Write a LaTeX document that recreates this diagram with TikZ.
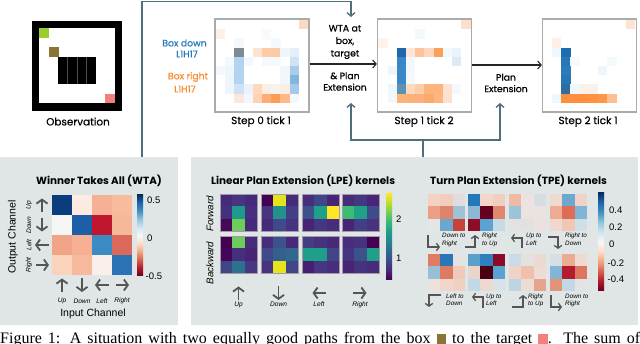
\documentclass[tikz,border=0pt]{standalone}
\usepackage{fontspec}
\setmainfont{Poppins}
\newfontfamily\medf{Poppins}[FakeBold=0.6]
\newfontfamily\arialf{Liberation Sans}
\newfontfamily\capfnt{Liberation Serif}
\usetikzlibrary{arrows.meta}
\definecolor{loopc}{HTML}{4F6F7B}
\definecolor{panelbg}{HTML}{DFE6E5}
\definecolor{frameg}{HTML}{A8ACAC}
\definecolor{boxblue}{HTML}{2479BD}
\definecolor{boxorange}{HTML}{F78B2E}
\definecolor{glyph}{HTML}{555555}
\definecolor{boxbrown}{HTML}{8B7536}
\definecolor{tgtpink}{HTML}{F2807C}
\definecolor{goalgreen}{HTML}{9ACD32}
\definecolor{rdA}{HTML}{67001F}\definecolor{rdB}{HTML}{B2182B}\definecolor{rdC}{HTML}{D6604D}\definecolor{rdD}{HTML}{F4A582}\definecolor{rdE}{HTML}{FDDBC7}\definecolor{rdF}{HTML}{F7F7F7}\definecolor{rdG}{HTML}{D1E5F0}\definecolor{rdH}{HTML}{92C5DE}\definecolor{rdI}{HTML}{4393C3}\definecolor{rdJ}{HTML}{2166AC}\definecolor{rdK}{HTML}{053061}
\definecolor{vA}{HTML}{440154}\definecolor{vB}{HTML}{482878}\definecolor{vC}{HTML}{3E4989}\definecolor{vD}{HTML}{31688E}\definecolor{vE}{HTML}{26828E}\definecolor{vF}{HTML}{1F9E89}\definecolor{vG}{HTML}{35B779}\definecolor{vH}{HTML}{6ECE58}\definecolor{vI}{HTML}{B5DE2B}\definecolor{vJ}{HTML}{FDE725}
\pgfdeclareverticalshading{rdbu}{100bp}{color(0bp)=(rdA);color(25bp)=(rdA);color(30bp)=(rdB);color(35bp)=(rdC);color(40bp)=(rdD);color(45bp)=(rdE);color(50bp)=(rdF);color(55bp)=(rdG);color(60bp)=(rdH);color(65bp)=(rdI);color(70bp)=(rdJ);color(75bp)=(rdK);color(100bp)=(rdK)}
\pgfdeclareverticalshading{viri}{100bp}{color(0bp)=(vA);color(25bp)=(vA);color(30.5bp)=(vB);color(36bp)=(vC);color(41.5bp)=(vD);color(47bp)=(vE);color(53bp)=(vF);color(58.5bp)=(vG);color(64bp)=(vH);color(69.5bp)=(vI);color(75bp)=(vJ);color(100bp)=(vJ)}
\newcommand{\gridmap}[5]{%
  \foreach \hc [count=\i from 0] in {#5} {%
    \pgfmathtruncatemacro\gc{mod(\i,#4)}%
    \pgfmathtruncatemacro\gr{div(\i,#4)}%
    \definecolor{tmpc}{HTML}{\hc}%
    \fill[tmpc] ({#1+\gc*#3},{#2+\gr*#3}) rectangle ++({#3+0.3},{#3+0.3});}}
\newcommand{\sparsemap}[4]{%
  \foreach \cc/\rr/\hc in {#4} {%
    \definecolor{tmpc}{HTML}{\hc}%
    \fill[tmpc] ({#1+\cc*#3},{#2+\rr*#3}) rectangle ++({#3+0.2},{#3+0.2});}}
\tikzset{
  toplabel/.style={font=\medf\fontsize{10.4}{11}\selectfont, inner sep=0},
  midlabel/.style={font=\medf\fontsize{9.3}{11.5}\selectfont, inner sep=0, align=center},
  title/.style={font=\bfseries\fontsize{10.4}{12}\selectfont, inner sep=0},
  stepframe/.style={draw=frameg, line width=1.2pt, minimum width=94pt, minimum height=93pt, inner sep=0},
  panel/.style={fill=panelbg, inner sep=0, anchor=north west},
  loopline/.style={draw=loopc, line width=1.4pt},
  looparrow/.style={loopline, -{Straight Barb[length=3.5pt,width=8pt]}},
  flow/.style={draw=black!85, line width=1.1pt, -{Straight Barb[length=3.5pt,width=8pt]}},
  garrow/.style={draw=glyph, line width=1.8pt, -{Straight Barb[length=4pt,width=11pt]}},
  tarrow/.style={draw=glyph, line width=1.3pt, -{Straight Barb[length=2.8pt,width=7.5pt]}},
  smallit/.style={font=\arialf\itshape\fontsize{6.6}{7.6}\selectfont, inner sep=0},
  tinyit/.style={font=\arialf\itshape\fontsize{6.3}{7.6}\selectfont, inner sep=0, align=left, anchor=north west},
  axlab/.style={font=\arialf\fontsize{10.5}{12}\selectfont, inner sep=0},
  cbl/.style={font=\arialf\fontsize{9.5}{11}\selectfont, inner sep=0, anchor=west},
  kframe/.style={draw=white!75!violet!40!gray, line width=0.5pt}
}
\begin{document}
\begin{tikzpicture}[x=1pt,y=-1pt]
\useasboundingbox (0,0) rectangle (640,344);
% ---------------- Observation
\fill[black] (32,21) rectangle (122,111);
\fill[white] (39,28) rectangle (115,103);
\fill[goalgreen] (39,28) rectangle (49,38);
\fill[boxbrown] (49,47) rectangle (59,57);
\fill[black] (58,57) rectangle (96,84);
\foreach \xx in {67.5,77,86.5} \draw[black!70, line width=0.5pt] (\xx,57) -- (\xx,84);
\fill[tgtpink] (105,94) rectangle (114.5,103);
\node[toplabel] (obs) at (78,121.5) {Observation};
% ---------------- bottom panels
\node[panel, minimum width=178pt, minimum height=168pt] (wtap) at (0,157) {};
\node[panel, minimum width=447pt, minimum height=168pt] (plp) at (191,157) {};
% ---------------- Step heatmaps
\sparsemap{216}{20}{9.2}{9/0/FDD9BF,0/1/FDF0E6,2/2/F6F9FB,5/1/F7FBFE,6/2/F4F9FD,
 2/3/7F8C8F,4/3/FDE3D0,5/3/FDCBA6,6/3/FDCBA3,7/3/EEF5FB,8/3/E3EFF9,
 1/4/F2F8FD,2/4/B3D4F0,3/4/F2F8FD,5/4/F4F9FD,6/4/F4F9FD,8/4/CFE3F5,
 0/5/F2F8FD,1/5/EEF6FC,2/5/B3D4F0,7/5/F0F7FC,8/5/A9CCEC,
 1/6/EEF6FC,2/6/B3D4F0,7/6/F0F7FC,8/6/86B5DC,
 1/7/EEF6FC,2/7/CDE2F3,3/7/EAF3FB,4/7/FDD8BD,5/7/FDEEE3,6/7/F9F3EF,7/7/FCEDE4,8/7/A6C9E8,
 2/8/FDE7DA,3/8/F2F8FD,4/8/FDD3B3,5/8/FCAE74,6/8/FC9C55,7/8/FDB98A,8/8/F2F8FD}
\sparsemap{378.3}{20}{9.2}{9/0/FDE0CC,0/2/FEF2EA,4/1/F3F8FD,
 2/3/1F66AA,3/3/FDE6D6,4/3/FCC49A,5/3/FDD8BB,6/3/FBA05A,7/3/F3F8FC,8/3/EAF3FB,
 2/4/3786C6,3/4/F2F8FD,8/4/DCEAF7,
 1/5/EEF5FB,2/5/3A88C8,3/5/F2F8FD,
 2/6/3A88C8,3/6/F4F9FD,
 1/7/EEF6FB,2/7/5B93B6,3/7/FDD9BE,4/7/FDCCA8,5/7/FBB47C,6/7/FBB47E,7/7/FDE2CF,8/7/F5F9FD,
 1/8/F2F8FC,2/8/FBB37B,3/8/FCB07A,4/8/FCAF78,5/8/FCAA6B,6/8/FCB584,7/8/FDE1CD}
\sparsemap{542.7}{20}{9.2}{9/0/FDE3D2,1/2/FEF0E6,1/3/F0F8FD,
 2/3/1C6CB2,2/4/2676B8,2/5/2C7BBB,2/6/2676B8,2/7/2E6E9E,
 3/4/F4FAFE,7/4/F5FAFD,6/5/EEF6FC,3/7/F0F8FD,4/7/FEF0E6,5/7/F8F2EE,1/8/EEF7FC,
 2/8/FD8E3C,3/8/FD8F3F,4/8/FD8F3F,5/8/FD9243,6/8/FD9649,7/8/FBBF93}
\node[stepframe] (s0) at (262,65.5) {};
\node[stepframe] (s1) at (424.5,65.5) {};
\node[stepframe] (s2) at (589.5,65.5) {};
\node[toplabel] (s0l) at (261,121.5) {Step 0 tick 1};
\node[toplabel] (s1l) at (424,121.5) {Step 1 tick 2};
\node[toplabel] (s2l) at (588,121.5) {Step 2 tick 1};
% labels left of step 0
\node[midlabel, text=boxblue] (bd) at (184.5,43) {Box down};
\node[midlabel, text=boxblue] (bdh) at (187,54) {L1H17};
\node[midlabel, text=boxorange] (br) at (188,77) {Box right};
\node[midlabel, text=boxorange] (brh) at (185,89) {L1H17};
% middle texts
\node[midlabel, font=\medf\fontsize{9.3}{12.5}\selectfont] (wtat) at (345,42) {WTA at\\box,\\target};
\node[midlabel] (pet) at (345,81.5) {\& Plan\\Extension};
\node[midlabel] (pe2) at (506,83) {Plan\\Extension};
% flow arrows
\draw[flow] (s0.east |- 0,64) -- (s1.west |- 0,64);
\draw[flow] (s1.east |- 0,65) -- (s2.west |- 0,65);
% loop lines
\coordinate (ltop) at (142,1.6);
\coordinate (ltip) at (351,17);
\draw[looparrow] (wtap.north -| ltop) -- (ltop) -| (ltip);
\coordinate (cst) at (423,140);
\coordinate (tipA) at (351,103);
\coordinate (tipB) at (500,103);
\draw[looparrow] (plp.north -| cst) -- (cst) -| (tipA);
\draw[looparrow] (cst) -| (tipB);
% ---------------- WTA panel
\node[title] (wtatitle) at (99,181) {Winner Takes All (WTA)};
\gridmap{52}{195}{20}{4}{0B3C7B,FDEBE2,F6B095,F8BB9D,F7F6F6,1C5FA6,C0172F,F7B799,F1A486,F6B093,3C8CC3,DB6A5A,FBD2BC,F7B99C,F9F0EB,2B72B6}
\fill[shading=rdbu] (137,195) rectangle (143,276);
\node[cbl] (w1) at (147,200) {0.5};
\node[cbl] (w2) at (147,238) {0};
\node[cbl] (w3) at (145.5,276) {-0.5};
\draw[garrow] (42,212) -- (42,198.5);
\draw[garrow] (42,218) -- (42,231.5);
\draw[garrow] (48.5,245) -- (35,245);
\draw[garrow] (35.5,265) -- (49,265);
\node[smallit, rotate=90] (ou) at (29,205) {Up};
\node[smallit, rotate=90] (od) at (29,225) {Down};
\node[smallit, rotate=90] (ol) at (29,245) {Left};
\node[smallit, rotate=90] (or) at (29,265) {Right};
\node[axlab, rotate=90] (outc) at (13,237) {Output Channel};
\draw[garrow] (62,292) -- (62,278.5);
\draw[garrow] (82,278.5) -- (82,292);
\draw[garrow] (108.5,285) -- (95,285);
\draw[garrow] (115.5,285) -- (129,285);
\node[smallit] (iu) at (62,301) {Up};
\node[smallit] (id) at (82,301) {Down};
\node[smallit] (il) at (102,301) {Left};
\node[smallit] (ir) at (122,301) {Right};
\node[axlab] (inc) at (93,313.5) {Input Channel};
% ---------------- LPE
\node[title, anchor=west] (lpet) at (211,181) {Linear Plan Extension (LPE) kernels};
\gridmap{220}{194}{12.3}{3}{45297A,473580,45297A,462F7E,1F9A8A,46307D,440A58,6CCD5A,45297A}
\gridmap{261}{194}{12.3}{3}{440154,E4E419,472A7A,46327E,25918C,433E85,482878,3E4A89,46337F}
\gridmap{302}{194}{12.3}{3}{472D7B,3F4788,482576,3B528B,1FA088,FDE725,482475,453781,472D7B}
\gridmap{342}{194}{12.3}{3}{472C7A,453882,482576,3DBC74,1FA187,3E4C8A,482475,433E85,46337E}
\gridmap{220}{236}{12.3}{3}{440154,6CCD5A,472C7A,450559,46307E,482475,414487,2C728E,453781}
\gridmap{261}{236}{12.3}{3}{472D7B,3B528B,482878,3E4A89,35608D,31688E,46337F,E7E419,404588}
\gridmap{302}{236}{12.3}{3}{433D84,46327E,482878,1F9E89,1F9E89,414487,481F70,453781,472D7B}
\gridmap{342}{236}{12.3}{3}{472D7B,46327E,440154,46337F,3B528B,1FA088,482374,46337E,472C7A}
\foreach \kx in {220,261,302,342} \foreach \ky in {194,236} \draw[kframe] (\kx,\ky) rectangle ++(37.2,37.2);
\node[smallit, rotate=90, font=\arialf\itshape\fontsize{9.7}{11}\selectfont] (fw) at (210,214) {Forward};
\node[smallit, rotate=90, font=\arialf\itshape\fontsize{9.7}{11}\selectfont] (bw) at (210,263) {Backward};
\fill[shading=viri] (386,194) rectangle (392,280);
\node[cbl] (v2) at (396,219) {2};
\node[cbl] (v1) at (396,258) {1};
\draw[garrow] (238.5,300) -- (238.5,286.5);
\draw[garrow] (278.5,286.5) -- (278.5,300);
\draw[garrow] (326,293) -- (312.5,293);
\draw[garrow] (353,293) -- (366.5,293);
\node[smallit] (lu) at (238.5,304.5) {Up};
\node[smallit] (ld) at (278.5,304.5) {Down};
\node[smallit] (ll) at (319,304.5) {Left};
\node[smallit] (lr) at (360,304.5) {Right};
% ---------------- TPE
\node[title, anchor=west] (tpet) at (430,181) {Turn Plan Extension (TPE) kernels};
\gridmap{428}{194}{12.3}{3}{F4D2C2,F2CCBC,E0DDDC,EC9F86,E0836C,9EC2D6,E6E6E6,6AA8CF,C7423A}
\gridmap{468}{194}{12.3}{3}{2478B8,F2D6CA,F1CFC0,8CB8D5,67001F,E0886F,8E0C25,5BA3D0,C6DBE8}
\gridmap{509}{194}{12.3}{3}{EFB9A2,EBE3E0,D6DEE4,9CC4D9,ECE3E0,ECE3E0,E2E2E2,E1E1E1,EBE2DF}
\gridmap{550}{194}{12.3}{3}{EFD9D0,6DA9CF,F0D2C6,EEAC93,DD6E55,82B5D5,F0D8CE,EFC7B7,CFDFE6}
\gridmap{428}{254}{12.3}{3}{E07A62,2A77B7,E3E3E3,95C0D8,DD7B62,EFC9BA,EDE1DC,F0D6CB,EFD0C3}
\gridmap{468}{254}{12.3}{3}{5B9FCB,2D7FBD,8A0A27,EAD5CC,4A0012,5BA3CF,C3D8E5,ECDAD2,D8E2E8}
\gridmap{509}{254}{12.3}{3}{C9DBE6,E4E1DF,ECDAD2,F0D3C7,EFC0AD,EEDBD3,BDD5E3,ECDCD6,E5A48D}
\gridmap{550}{254}{12.3}{3}{D7DFE5,EAAB93,EFD9D1,83B6D6,B41B2C,DC765F,E29477,C3D8E5,E3E3E3}
\fill[shading=rdbu] (598,193) rectangle (604,291);
\node[cbl] (t1) at (609,210) {0.4};
\node[cbl] (t2) at (609,227) {0.2};
\node[cbl] (t3) at (609,244) {0};
\node[cbl] (t4) at (607.5,263) {-0.2};
\node[cbl] (t5) at (607.5,279) {-0.4};
% turn glyphs
\draw[tarrow] (428,235) -- (428,247) -- (440,247);
\draw[tarrow] (465,247) -- (475,247) -- (475,235);
\draw[tarrow] (522,248) -- (522,238) -- (511,238);
\draw[tarrow] (548,237) -- (558,237) -- (558,249);
\draw[tarrow] (441,295) -- (429,295) -- (429,307);
\draw[tarrow] (483,308) -- (483,297) -- (472,297);
\draw[tarrow] (512,307) -- (523,307) -- (523,295);
\draw[tarrow] (551,295) -- (551,307) -- (562,307);
\node[tinyit] (a1) at (442,233) {Down to\\Right};
\node[tinyit] (a2) at (482,233) {Right\\to Up};
\node[tinyit] (a3) at (526,233) {Up to\\Left};
\node[tinyit] (a4) at (565,233) {Right to\\Down};
\node[tinyit] (b1) at (446,293.5) {Left to\\Down};
\node[tinyit] (b2) at (486,293.5) {Up to\\Left};
\node[tinyit] (b3) at (528,293.5) {Right\\to Up};
\node[tinyit] (b4) at (565,293.5) {Down to\\Right};
% ---------------- caption
\node[anchor=base west, inner sep=0, font=\capfnt\fontsize{16}{16}\selectfont] (cap) at (0,344) {\makebox[640pt][s]{Figure 1: A situation with two equally good paths from the box \textcolor{boxbrown}{\rule{0.6em}{0.6em}} to the target \textcolor{tgtpink}{\rule{0.6em}{0.6em}}. The sum of}};
\end{tikzpicture}
\end{document}
